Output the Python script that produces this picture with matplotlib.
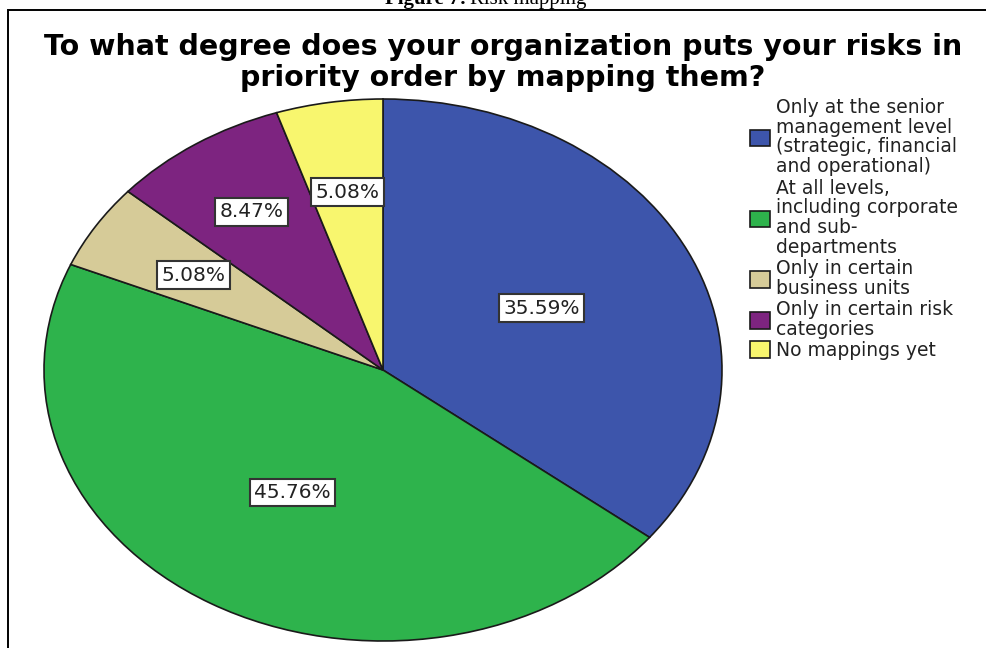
import numpy as np
import matplotlib.pyplot as plt
from matplotlib.patches import Rectangle

# Survey answers and their shares (%)
categories = [
    "Only at the senior\nmanagement level\n(strategic, financial\nand operational)",
    "At all levels,\nincluding corporate\nand sub-\ndepartments",
    "Only in certain\nbusiness units",
    "Only in certain risk\ncategories",
    "No mappings yet",
]
shares = [35.59, 45.76, 5.08, 8.47, 5.08]
colors = ["#3D55AB", "#2EB34C", "#D6CB98", "#7D2480", "#F8F66E"]
label_radius = [0.52, 0.525, 0.66, 0.70, 0.665]

W, H = 987, 648
fig = plt.figure(figsize=(W / 100, H / 100), dpi=100)

# pie centre and half-axes in pixels (the pie is drawn squashed)
cx, cy, rx, ry = 383, 370, 339, 271
lim = 1.05
ax = fig.add_axes([(cx - lim * rx) / W, (H - cy - lim * ry) / H,
                   2 * lim * rx / W, 2 * lim * ry / H])

wedges, _ = ax.pie(shares, colors=colors, startangle=90, counterclock=False,
                   wedgeprops=dict(edgecolor="#1a1a1a", linewidth=1.2))
ax.set_aspect("auto")
ax.set_xlim(-lim, lim)
ax.set_ylim(-lim, lim)
ax.axis("off")

for w, v, r in zip(wedges, shares, label_radius):
    mid = np.deg2rad(0.5 * (w.theta1 + w.theta2))
    ax.text(r * np.cos(mid), r * np.sin(mid), f"{v:.2f}%",
            ha="center", va="center", fontsize=14.5, color="#222222",
            family="DejaVu Sans",
            bbox=dict(boxstyle="square,pad=0.22", facecolor="white",
                      edgecolor="#333333", linewidth=1.5))

# outer frame (left and top edges show, the rest runs off the page)
fig.add_artist(Rectangle((8 / W, -0.1), 1.2, (H - 10) / H + 0.1,
                         transform=fig.transFigure, fill=False,
                         edgecolor="black", linewidth=1.4))

# caption above the frame
fig.text(467 / W, (H - 4) / H, "Figure 7:", ha="right", va="baseline",
         fontsize=15, fontweight="bold", family="Liberation Serif")
fig.text(470 / W, (H - 4) / H, "Risk mapping", ha="left", va="baseline",
         fontsize=15, family="Liberation Serif")

fig.text(503 / W, (H - 33) / H,
         "To what degree does your organization puts your risks in\n"
         "priority order by mapping them?",
         ha="center", va="top", fontsize=20.5, fontweight="bold",
         family="DejaVu Sans", linespacing=1.15)

leg = ax.legend(wedges, categories, loc="upper left",
                bbox_to_anchor=(750 / W, (H - 98) / H),
                bbox_transform=fig.transFigure, frameon=False,
                prop=dict(family="DejaVu Sans", size=13.5),
                handlelength=1.07, handleheight=0.96, handletextpad=0.32,
                labelspacing=0.12, borderpad=0, borderaxespad=0)
for t in leg.get_texts():
    t.set_linespacing(1.05)
    t.set_color("#222222")
for h in leg.legend_handles:
    h.set_edgecolor("#1a1a1a")
    h.set_linewidth(1.2)

fig.savefig("out.png", dpi=100)
